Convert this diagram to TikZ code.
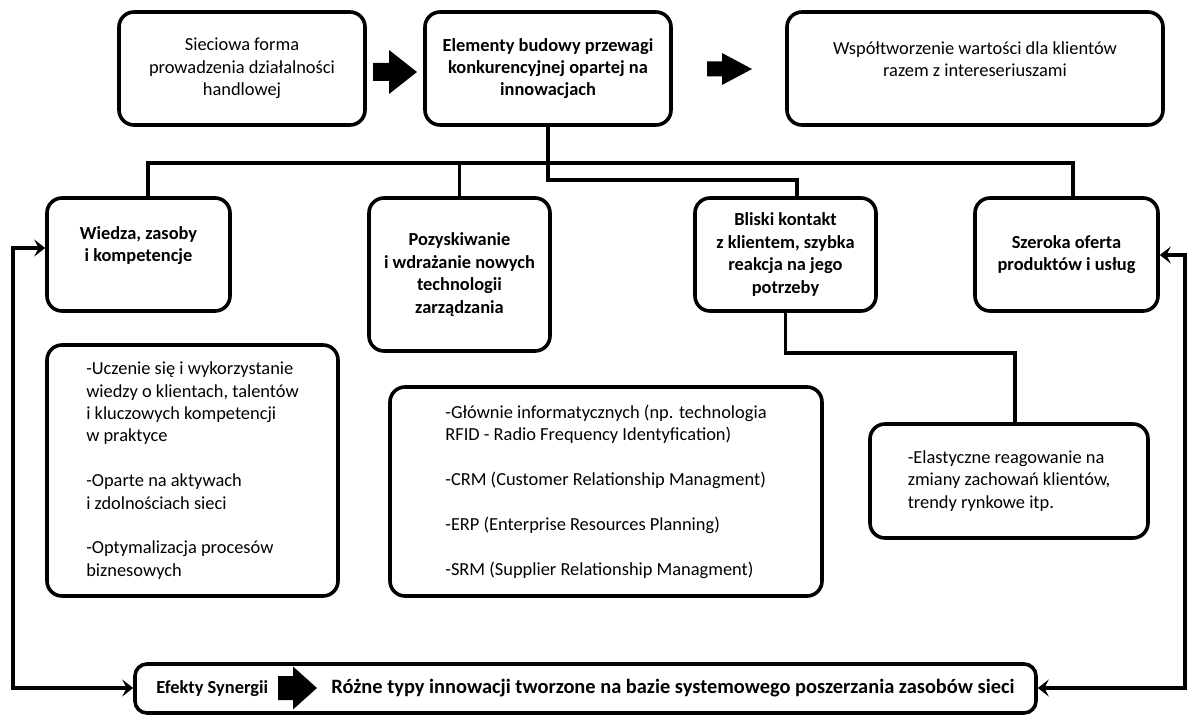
\documentclass[tikz,border=0pt]{standalone}
\usepackage{fontspec}
\setmainfont{Carlito}
\usetikzlibrary{arrows.meta}
\begin{document}
\begin{tikzpicture}[x=1pt,y=-1pt,
  txt/.style={font=\fontsize{18.4}{22.4}\selectfont},
  box/.style={draw, line width=3.6pt, rounded corners=15pt, align=center, inner sep=0pt, txt},
  boldbox/.style={box, font=\fontsize{18.4}{22.4}\selectfont\bfseries},
  cbox/.style={draw, line width=3.6pt, rounded corners=15pt, align=left, inner sep=0pt, txt},
  conn/.style={line width=3.2pt, line join=miter},
  tips/.style={arrows={Stealth[length=11pt,width=17pt,inset=4.5pt]-Stealth[length=11pt,width=17pt,inset=4.5pt]}}
]
\useasboundingbox (0,0) rectangle (1187,717);

% top row
\node[box, minimum width=246pt, minimum height=113pt] (b1) at (242,68.5)
  {Sieciowa forma\\prowadzenia działalności\\handlowej};
\node[boldbox, minimum width=246pt, minimum height=113pt] (b2) at (548,68.5)
  {Elementy budowy przewagi\\konkurencyjnej opartej na\\innowacjach};
\node[box, minimum width=376pt, minimum height=113pt] (b3) at (975,68.5)
  {Współtworzenie wartości dla klientów\\razem z intereseriuszami\\[-4pt]};

% block arrows
\fill (373,63) -- (389,63) -- (389,50) -- (417,72) -- (389,94) -- (389,81) -- (373,81) -- cycle;
\fill (707,61.5) -- (722,61.5) -- (722,53) -- (752,69) -- (722,85) -- (722,76.5) -- (707,76.5) -- cycle;

% second row
\node[boldbox, minimum width=183pt, minimum height=113pt] (w) at (138.5,254.5)
  {Wiedza, zasoby\\i kompetencje\\[-2pt]};
\node[boldbox, minimum width=181pt, minimum height=153pt] (p) at (459.5,274.5)
  {Pozyskiwanie\\i wdrażanie nowych\\technologii\\zarządzania};
\node[boldbox, minimum width=181pt, minimum height=113pt] (k) at (785.5,254.5)
  {Bliski kontakt\\z klientem, szybka\\reakcja na jego\\potrzeby};
\node[boldbox, minimum width=183pt, minimum height=113pt] (s) at (1066.5,254.5)
  {Szeroka oferta\\produktów i usług};

% content boxes
\node[cbox, minimum width=291pt, minimum height=251pt] (cw) at (192.5,470.5)
  {-Uczenie się i wykorzystanie\\wiedzy o klientach, talentów\\i kluczowych kompetencji\\w praktyce\\[22.4pt]-Oparte na aktywach\\i zdolnościach sieci\\[22.4pt]-Optymalizacja procesów\\biznesowych};
\node[cbox, minimum width=432pt, minimum height=209pt] (cp) at (606,491.5)
  {-Głównie informatycznych (np. technologia\\RFID - Radio Frequency Identyfication)\\[22.4pt]-CRM (Customer Relationship Managment)\\[22.4pt]-ERP (Enterprise Resources Planning)\\[22.4pt]-SRM (Supplier Relationship Managment)};
\node[cbox, minimum width=278pt, minimum height=114pt] (ck) at (1009,481)
  {-Elastyczne reagowanie na\\zmiany zachowań klientów,\\trendy rynkowe itp.};

% bottom box
\node[draw, line width=3.6pt, rounded corners=12pt, inner sep=0pt, align=left,
  font=\fontsize{20.4}{24}\selectfont\bfseries, minimum width=901pt, minimum height=49pt] (bot) at (585.5,688.5)
  {\makebox[175pt][l]{\fontsize{18.4}{22}\selectfont Efekty Synergii}Różne typy innowacji tworzone na bazie systemowego poszerzania zasobów sieci};
\fill (278,676) -- (293,676) -- (293,666.5) -- (317,688) -- (293,709.5) -- (293,700) -- (278,700) -- cycle;

% tree connectors
\coordinate (busL) at (148,163);
\coordinate (busR) at (1073,163);
\coordinate (j2) at (797,180);
\coordinate (j3) at (1015,353);
\draw[conn] (busL |- w.north) -- (busL) -- (busR) -- (busR |- s.north);
\draw[conn] (p.north) -- (p.north |- busL);
\draw[conn] (b2.south) -- (b2.south |- j2) -- (j2) -- (j2 |- k.north);
\draw[conn] (k.south) -- (k.south |- j3) -- (j3) -- (j3 |- ck.north);

% feedback arrows
\coordinate (lt) at (13,248);
\coordinate (lb) at (13,688);
\coordinate (rt) at (1185,255);
\coordinate (rb) at (1185,688);
\draw[conn,tips] (lt -| w.west) -- (lt) -- (lb) -- (lb -| bot.west);
\draw[conn,tips] (rt -| s.east) -- (rt) -- (rb) -- (rb -| bot.east);
\end{tikzpicture}
\end{document}
